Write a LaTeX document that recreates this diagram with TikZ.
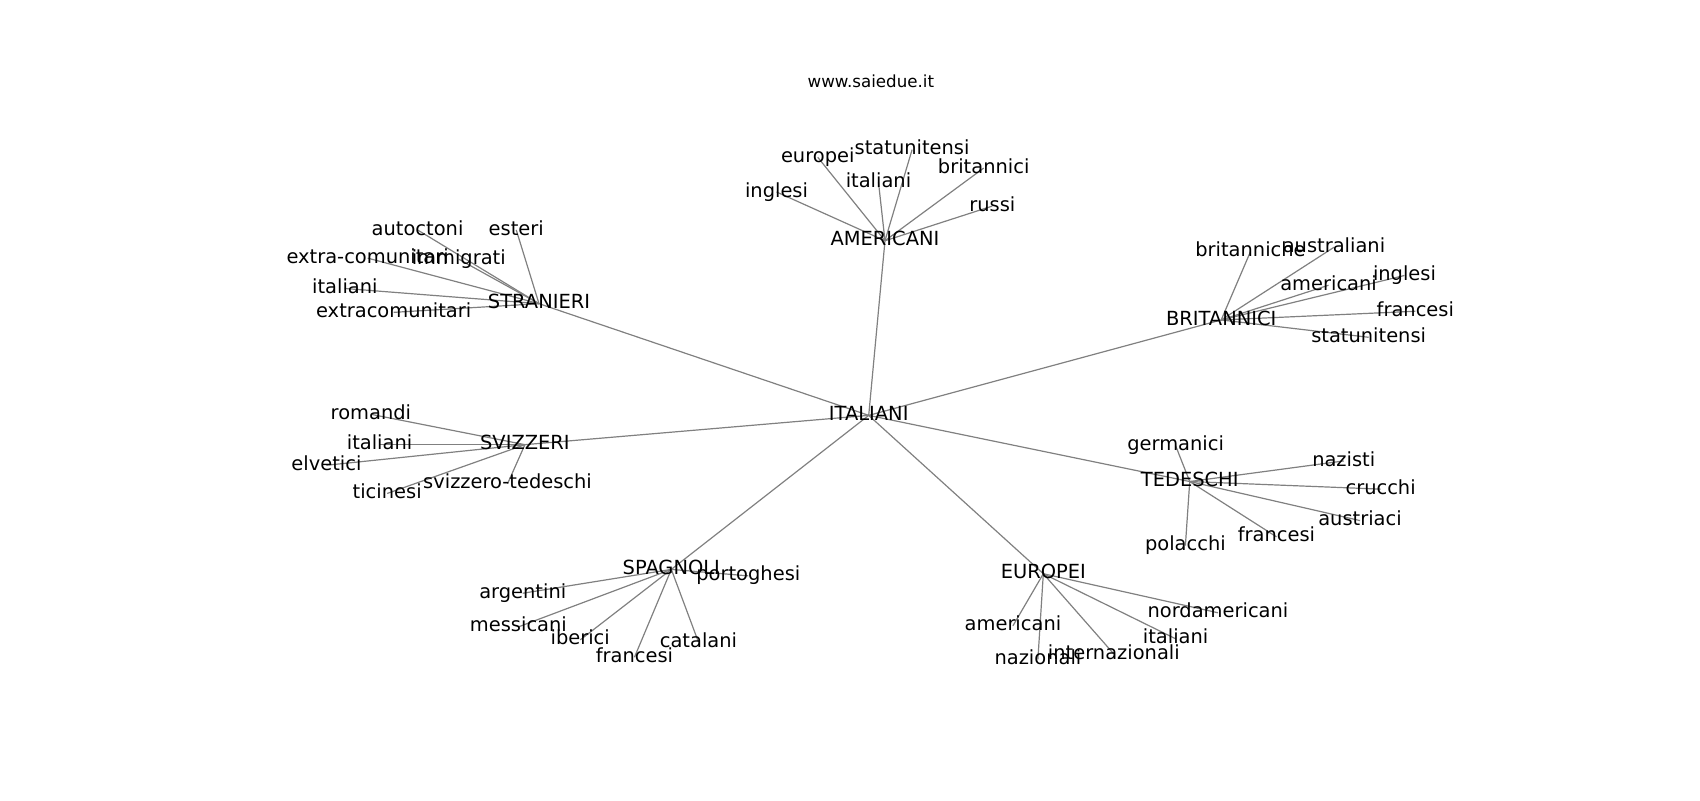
\documentclass[tikz,border=0pt]{standalone}
\usepackage{fontspec}
\setmainfont{DejaVu Sans}
\usetikzlibrary{backgrounds}
\tikzset{
  lbl/.style={font=\fontsize{19.44}{23}\selectfont, inner sep=0pt, text height=14.8pt, text depth=4.6pt, anchor=center},
  ttl/.style={font=\fontsize{16.67}{20}\selectfont, inner sep=0pt, text height=12.7pt, text depth=3.9pt, anchor=center},
  edge/.style={draw={rgb,255:red,128;green,128;blue,128}, line width=1.2pt}
}
\begin{document}
\begin{tikzpicture}[x=1.0845pt,y=-1.0845pt]
\useasboundingbox (0,0) rectangle (1567.5,737.7);
\begin{scope}[shift={(0,2)}]
\node[ttl] (title) at (803,75) {www.saiedue.it};
% hubs
\node[lbl] (ITA) at (801,381) {ITALIANI};
\node[lbl] (AME) at (816,220) {AMERICANI};
\node[lbl] (STR) at (497,278) {STRANIERI};
\node[lbl] (BRI) at (1126,293) {BRITANNICI};
\node[lbl] (SVI) at (484,408) {SVIZZERI};
\node[lbl] (TED) at (1097,442) {TEDESCHI};
\node[lbl] (SPA) at (619,523) {SPAGNOLI};
\node[lbl] (EUR) at (962,527) {EUROPEI};
% americani
\node[lbl] (a1) at (716,175) {inglesi};
\node[lbl] (a2) at (754,143) {europei};
\node[lbl] (a3) at (810,166) {italiani};
\node[lbl] (a4) at (841,136) {statunitensi};
\node[lbl] (a5) at (907,153) {britannici};
\node[lbl] (a6) at (915,188) {russi};
% stranieri
\node[lbl] (s1) at (385,210) {autoctoni};
\node[lbl] (s2) at (476,210) {esteri};
\node[lbl] (s3) at (339,236) {extra-comunitari};
\node[lbl] (s4) at (423,237) {immigrati};
\node[lbl] (s5) at (318,264) {italiani};
\node[lbl] (s6) at (363,286) {extracomunitari};
% britannici
\node[lbl] (b1) at (1153,230) {britanniche};
\node[lbl] (b2) at (1230,226) {australiani};
\node[lbl] (b3) at (1295,252) {inglesi};
\node[lbl] (b4) at (1225,261) {americani};
\node[lbl] (b5) at (1305,285) {francesi};
\node[lbl] (b6) at (1262,309) {statunitensi};
% svizzeri
\node[lbl] (v1) at (342,380) {romandi};
\node[lbl] (v2) at (350,408) {italiani};
\node[lbl] (v3) at (301,427) {elvetici};
\node[lbl] (v4) at (357,453) {ticinesi};
\node[lbl] (v5) at (468,444) {svizzero-tedeschi};
% tedeschi
\node[lbl] (t1) at (1084,409) {germanici};
\node[lbl] (t2) at (1239,423) {nazisti};
\node[lbl] (t3) at (1273,449) {crucchi};
\node[lbl] (t4) at (1254,478) {austriaci};
\node[lbl] (t5) at (1177,493) {francesi};
\node[lbl] (t6) at (1093,501) {polacchi};
% spagnoli
\node[lbl] (p1) at (690,529) {portoghesi};
\node[lbl] (p2) at (482,545) {argentini};
\node[lbl] (p3) at (478,576) {messicani};
\node[lbl] (p4) at (535,588) {iberici};
\node[lbl] (p5) at (585,604) {francesi};
\node[lbl] (p6) at (644,590) {catalani};
% europei
\node[lbl] (e1) at (1123,563) {nordamericani};
\node[lbl] (e2) at (934,575) {americani};
\node[lbl] (e3) at (1084,587) {italiani};
\node[lbl] (e4) at (957,606) {nazionali};
\node[lbl] (e5) at (1027,601) {internazionali};
\begin{scope}[on background layer]
\foreach \h in {AME,STR,BRI,SVI,TED,SPA,EUR} \draw[edge] (ITA.center) -- (\h.center);
\foreach \n in {a1,a2,a3,a4,a5,a6} \draw[edge] (AME.center) -- (\n.center);
\foreach \n in {s1,s2,s3,s4,s5,s6} \draw[edge] (STR.center) -- (\n.center);
\foreach \n in {b1,b2,b3,b4,b5,b6} \draw[edge] (BRI.center) -- (\n.center);
\foreach \n in {v1,v2,v3,v4,v5} \draw[edge] (SVI.center) -- (\n.center);
\foreach \n in {t1,t2,t3,t4,t5,t6} \draw[edge] (TED.center) -- (\n.center);
\foreach \n in {p1,p2,p3,p4,p5,p6} \draw[edge] (SPA.center) -- (\n.center);
\foreach \n in {e1,e2,e3,e4,e5} \draw[edge] (EUR.center) -- (\n.center);
\end{scope}
\end{scope}
\end{tikzpicture}
\end{document}
